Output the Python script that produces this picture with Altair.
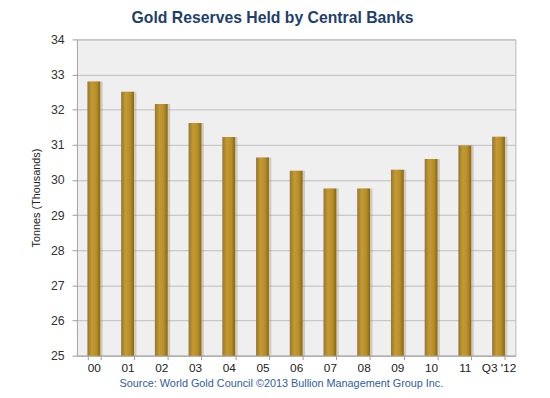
import altair as alt
import pandas as pd

years = ["00", "01", "02", "03", "04", "05", "06", "07", "08", "09", "10", "11", "Q3 '12"]
tonnes_k = [32.80, 32.51, 32.16, 31.62, 31.22, 30.64, 30.26, 29.76, 29.76, 30.29, 30.60, 30.98, 31.23]

df = pd.DataFrame({"year": years, "tonnes": tonnes_k})

gold = alt.Gradient(
    gradient="linear",
    x1=0, x2=1, y1=0, y2=0,
    stops=[
        alt.GradientStop(color="#9C7620", offset=0),
        alt.GradientStop(color="#C49A32", offset=0.35),
        alt.GradientStop(color="#B68E2A", offset=0.7),
        alt.GradientStop(color="#86661A", offset=1),
    ],
)

x_enc = alt.X(
    "year:N",
    sort=years,
    scale=alt.Scale(paddingInner=0.62, paddingOuter=0.31),
    axis=alt.Axis(
        title="Source: World Gold Council  \u00a92013 Bullion Management Group Inc.",
        titleFont="Liberation Sans",
        titleFontSize=11,
        titleFontWeight="normal",
        titleColor="#2F5E9E",
        titleX=207,
        titleY=22,
        titleAnchor="middle",
        titleBaseline="top",
        labelAngle=0,
        labelFont="Liberation Sans",
        labelFontSize=12,
        labelColor="#222222",
        labelPadding=3,
        tickBand="extent",
        tickSize=4,
        tickColor="#9A9A9A",
        domainColor="#A8A8A8",
        grid=False,
    ),
)
y_enc = alt.Y(
    "tonnes:Q",
    scale=alt.Scale(domain=[25, 34], zero=False, nice=False),
    axis=alt.Axis(
        title="Tonnes (Thousands)",
        titleFont="Liberation Sans",
        titleFontSize=11,
        titleFontWeight="normal",
        titleColor="#222222",
        titleX=-36,
        values=[25, 26, 27, 28, 29, 30, 31, 32, 33, 34],
        labelFont="Liberation Sans",
        labelFontSize=12.5,
        labelColor="#333333",
        labelPadding=8,
        tickSize=5,
        tickColor="#9A9A9A",
        domainColor="#A8A8A8",
        gridColor="#BEBEBE",
        gridWidth=1,
    ),
)

shadow = alt.Chart(df).mark_bar(color="#8C8C8C", opacity=0.35, xOffset=2.5).encode(
    x=x_enc, y=y_enc, y2=alt.datum(25)
)
bars = alt.Chart(df).mark_bar(color=gold).encode(
    x=x_enc, y=y_enc, y2=alt.datum(25)
)

chart = (
    alt.layer(shadow, bars)
    .properties(
        width=445,
        height=321,
        autosize=alt.AutoSizeParams(type="none"),
        padding={"left": 70, "top": 29, "right": 27, "bottom": 34},
        background="white",
        title=alt.TitleParams(
            "Gold Reserves Held by Central Banks",
            font="Liberation Sans",
            fontSize=16,
            fontWeight="bold",
            color="#1F3F6E",
            anchor="middle",
            dx=-24,
            offset=8,
        ),
    )
    .configure_view(fill="#EFEFEF", stroke="#B8B8B8", strokeWidth=1)
)

chart.save("out.html", embed_options={"renderer": "svg", "actions": False})
